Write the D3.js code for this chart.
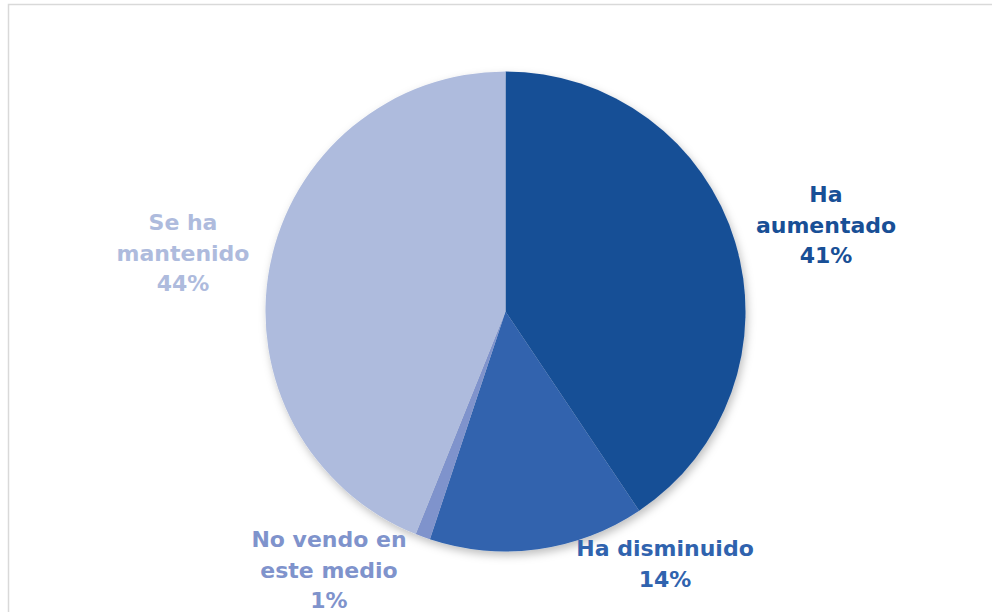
<!DOCTYPE html>
<html>
<head>
<meta charset="utf-8">
<script src="https://cdn.jsdelivr.net/npm/d3@7"></script>
<style>
  html, body { margin: 0; padding: 0; background: #fff; }
  svg { display: block; }
  .lbl { font-family: "DejaVu Sans", sans-serif; font-weight: 700; font-size: 22px; }
</style>
</head>
<body>
<svg id="chart" width="992" height="612"></svg>
<script>
// data (clockwise from 12 o'clock)
const categories = ["Ha aumentado", "Ha disminuido", "No vendo en este medio", "Se ha mantenido"];
const values = [40.6, 14.5, 1.0, 43.9];
const shownPct = ["41%", "14%", "1%", "44%"];
const colors = ["#184F96", "#3063AE", "#7F93CC", "#AEBBDD"];

// label line breaks + where the label block sits
const labelLines = [
  ["Ha", "aumentado", "41%"],
  ["Ha disminuido", "14%"],
  ["No vendo en", "este medio", "1%"],
  ["Se ha", "mantenido", "44%"]
];
const labelPos = [[826, 202], [665, 556], [329, 547], [183, 230]];

const svg = d3.select("#chart");

// chart frame
svg.append("rect")
  .attr("x", 8.5).attr("y", 4.5)
  .attr("width", 1100).attr("height", 700)
  .attr("fill", "none")
  .attr("stroke", "#d9d9d9")
  .attr("stroke-width", 1.5);

const defs = svg.append("defs");
const f = defs.append("filter").attr("id", "shadow")
  .attr("x", "-10%").attr("y", "-10%").attr("width", "120%").attr("height", "125%");
f.append("feDropShadow")
  .attr("dx", 2).attr("dy", 4).attr("stdDeviation", 4)
  .attr("flood-color", "#000").attr("flood-opacity", 0.25);

const cx = 505.5, cy = 311.5, r = 240;

const pie = d3.pie().sort(null).value(d => d);
const arc = d3.arc().innerRadius(0).outerRadius(r);

const g = svg.append("g")
  .attr("transform", `translate(${cx},${cy})`)
  .attr("filter", "url(#shadow)");

g.selectAll("path")
  .data(pie(values))
  .join("path")
  .attr("d", arc)
  .attr("fill", (d, i) => colors[i]);

// labels
labelLines.forEach((lines, i) => {
  const t = svg.append("text")
    .attr("class", "lbl")
    .attr("text-anchor", "middle")
    .attr("fill", colors[i]);
  lines.forEach((s, j) => {
    t.append("tspan")
      .attr("x", labelPos[i][0])
      .attr("y", labelPos[i][1] + j * 30.5)
      .text(s);
  });
});
</script>
</body>
</html>
